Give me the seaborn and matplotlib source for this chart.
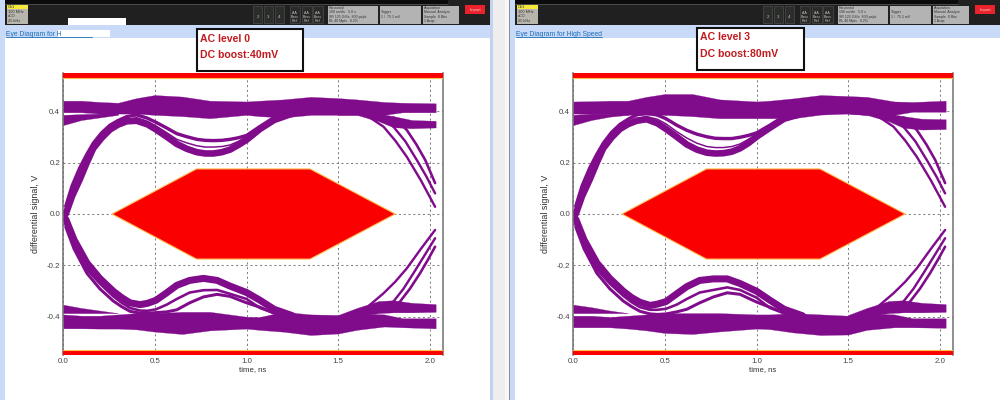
import matplotlib
matplotlib.use("Agg")
import matplotlib.pyplot as plt
from matplotlib.patches import Rectangle
import pandas as pd
import seaborn as sns

sns.set_theme(style="white")
plt.rcParams["font.family"] = ["Liberation Sans", "DejaVu Sans"]

PURPLE = "#800c8c"
RED = "#fb0000"
PX = 0.72

# shared axis data
x_ticks = [0.0, 0.5, 1.0, 1.5, 2.0]
y_ticks = [-0.4, -0.2, 0.0, 0.2, 0.4]
y_tick_labels = ["-0.4", "-0.2", "0.0", "0.2", "0.4"]

# eye mask
mask_t = [0.267, 0.727, 1.346, 1.81, 1.346, 0.727]
mask_v = [0.0, 0.175, 0.175, 0.0, -0.175, -0.175]

# knots for upper rail and lower rail
rail_t = [0.0, 0.1, 0.2, 0.3, 0.4, 0.5, 0.65, 0.8, 1.0, 1.07, 1.2, 1.35, 1.5, 1.6, 1.75, 1.85, 2.03]
# left panel rails
l_top_hi = [0.44, 0.44, 0.435, 0.432, 0.45, 0.462, 0.456, 0.44, 0.437, 0.44, 0.445, 0.455, 0.45, 0.445, 0.435, 0.432, 0.43]
l_top_lo = [0.395, 0.395, 0.39, 0.39, 0.39, 0.385, 0.38, 0.372, 0.385, 0.38, 0.375, 0.385, 0.385, 0.385, 0.385, 0.395, 0.395]
l_bot_hi = [-0.39, -0.395, -0.395, -0.39, -0.385, -0.385, -0.38, -0.38, -0.399, -0.40, -0.38, -0.39, -0.392, -0.385, -0.39, -0.405, -0.405]
l_bot_lo = [-0.444, -0.444, -0.445, -0.445, -0.448, -0.457, -0.466, -0.452, -0.445, -0.45, -0.457, -0.47, -0.464, -0.45, -0.437, -0.44, -0.444]
# right panel rails
r_top_hi = [0.437, 0.438, 0.44, 0.44, 0.455, 0.466, 0.466, 0.445, 0.437, 0.44, 0.449, 0.462, 0.458, 0.455, 0.437, 0.435, 0.44]
r_top_lo = [0.39, 0.39, 0.39, 0.385, 0.385, 0.385, 0.38, 0.372, 0.372, 0.372, 0.372, 0.386, 0.39, 0.384, 0.385, 0.397, 0.397]
r_bot_hi = [-0.395, -0.395, -0.40, -0.395, -0.39, -0.385, -0.385, -0.385, -0.39, -0.39, -0.385, -0.39, -0.395, -0.385, -0.39, -0.405, -0.405]
r_bot_lo = [-0.44, -0.44, -0.44, -0.445, -0.452, -0.462, -0.466, -0.456, -0.445, -0.447, -0.46, -0.47, -0.468, -0.45, -0.44, -0.44, -0.442]

# branches of the rails at the two ends of the trace
branch_left_t = [0.0, 0.1, 0.2, 0.3]
branch_right_t = [1.5, 1.6, 1.72, 1.8, 1.9, 2.03]
l_b1_hi = [0.385, 0.388, 0.39, 0.392]
l_b1_lo = [0.345, 0.365, 0.375, 0.385]
r_b1_hi = [0.385, 0.39, 0.39, 0.392]
r_b1_lo = [0.345, 0.365, 0.378, 0.385]
l_b2_hi = [0.39, 0.39, 0.39, 0.38, 0.365, 0.362]
l_b2_lo = [0.385, 0.385, 0.36, 0.337, 0.333, 0.336]
r_b2_hi = [0.39, 0.39, 0.39, 0.38, 0.37, 0.368]
r_b2_lo = [0.39, 0.385, 0.36, 0.335, 0.328, 0.33]
l_b3_hi = [-0.385, -0.385, -0.385, -0.385]
l_b3_lo = [-0.352, -0.365, -0.375, -0.385]
r_b3_hi = [-0.385, -0.385, -0.385, -0.385]
r_b3_lo = [-0.352, -0.362, -0.375, -0.385]
l_b4_hi = [-0.392, -0.365, -0.338, -0.335, -0.345, -0.35]
l_b4_lo = [-0.40, -0.395, -0.385, -0.382, -0.382, -0.38]
r_b4_hi = [-0.392, -0.365, -0.338, -0.335, -0.345, -0.35]
r_b4_lo = [-0.40, -0.395, -0.385, -0.382, -0.382, -0.38]

# rising and falling trace bundles of the upper eye
up_t = [0.015, 0.05, 0.092, 0.13, 0.165, 0.21, 0.256, 0.30, 0.347, 0.401, 0.46, 0.507, 0.565, 0.62, 0.675, 0.729, 0.775, 0.819, 0.865, 0.91, 0.955, 1.0, 1.073, 1.15, 1.25]
l_up_a = [0.0, 0.07, 0.135, 0.20, 0.255, 0.295, 0.328, 0.347, 0.36, 0.362, 0.348, 0.328, 0.30, 0.272, 0.253, 0.24, 0.235, 0.235, 0.24, 0.25, 0.268, 0.288, 0.33, 0.365, 0.39]
l_up_b = [0.03, 0.11, 0.18, 0.232, 0.275, 0.315, 0.345, 0.363, 0.378, 0.385, 0.372, 0.356, 0.334, 0.312, 0.30, 0.29, 0.286, 0.285, 0.286, 0.29, 0.296, 0.305, 0.34, 0.375, 0.40]
l_up_c = [0.015, 0.09, 0.155, 0.215, 0.262, 0.302, 0.335, 0.352, 0.366, 0.374, 0.36, 0.342, 0.316, 0.29, 0.276, 0.265, 0.26, 0.26, 0.262, 0.268, 0.282, 0.30, 0.335, 0.37, 0.395]
r_up_a = [0.0, 0.07, 0.135, 0.20, 0.255, 0.297, 0.33, 0.349, 0.362, 0.368, 0.352, 0.33, 0.30, 0.27, 0.25, 0.238, 0.235, 0.236, 0.242, 0.255, 0.275, 0.30, 0.335, 0.37, 0.39]
r_up_b = [0.03, 0.11, 0.18, 0.232, 0.275, 0.317, 0.348, 0.368, 0.385, 0.392, 0.384, 0.37, 0.345, 0.325, 0.31, 0.30, 0.294, 0.293, 0.293, 0.298, 0.305, 0.315, 0.345, 0.38, 0.40]
r_up_c = [0.015, 0.09, 0.155, 0.215, 0.262, 0.304, 0.338, 0.357, 0.372, 0.378, 0.368, 0.35, 0.32, 0.295, 0.275, 0.262, 0.258, 0.258, 0.262, 0.272, 0.29, 0.31, 0.34, 0.375, 0.395]

# rising and falling trace bundles of the lower eye
low_t = [0.015, 0.06, 0.13, 0.2, 0.274, 0.32, 0.365, 0.42, 0.46, 0.507, 0.565, 0.62, 0.69, 0.765, 0.84, 0.91, 1.0, 1.073, 1.15, 1.25]
l_low_a = [-0.02, -0.10, -0.19, -0.25, -0.30, -0.325, -0.345, -0.352, -0.347, -0.335, -0.306, -0.277, -0.258, -0.25, -0.258, -0.28, -0.305, -0.335, -0.37, -0.395]
l_low_b = [-0.04, -0.125, -0.215, -0.27, -0.32, -0.345, -0.365, -0.375, -0.376, -0.37, -0.352, -0.33, -0.305, -0.296, -0.295, -0.31, -0.33, -0.365, -0.385, -0.398]
l_low_c = [-0.05, -0.135, -0.23, -0.29, -0.338, -0.36, -0.378, -0.385, -0.385, -0.383, -0.38, -0.372, -0.345, -0.322, -0.312, -0.32, -0.345, -0.362, -0.385, -0.398]
r_low_a = [-0.02, -0.10, -0.19, -0.25, -0.30, -0.325, -0.343, -0.355, -0.35, -0.34, -0.31, -0.282, -0.258, -0.252, -0.252, -0.27, -0.30, -0.335, -0.37, -0.395]
r_low_b = [-0.04, -0.125, -0.215, -0.27, -0.318, -0.343, -0.362, -0.372, -0.372, -0.368, -0.352, -0.33, -0.305, -0.295, -0.285, -0.295, -0.325, -0.365, -0.385, -0.398]
r_low_c = [-0.05, -0.135, -0.23, -0.29, -0.338, -0.36, -0.378, -0.388, -0.39, -0.388, -0.38, -0.37, -0.345, -0.322, -0.306, -0.312, -0.342, -0.362, -0.385, -0.398]

# end strands of the eye crossing at about 2 ns
fall_a_t = [1.65, 1.746, 1.81, 1.873, 1.95, 2.027]
fall_a_v = [0.385, 0.339, 0.285, 0.222, 0.13, 0.028]
fall_b_t = [1.72, 1.8, 1.865, 1.927, 1.98, 2.027]
fall_b_v = [0.38, 0.339, 0.282, 0.21, 0.145, 0.08]
fall_c_t = [1.8, 1.873, 1.925, 1.973, 2.0, 2.027]
fall_c_v = [0.375, 0.326, 0.27, 0.21, 0.165, 0.12]
rise_a_t = [1.66, 1.746, 1.81, 1.873, 1.95, 2.027]
rise_a_v = [-0.36, -0.308, -0.263, -0.211, -0.135, -0.062]
rise_b_t = [1.72, 1.8, 1.855, 1.909, 1.97, 2.027]
rise_b_v = [-0.37, -0.34, -0.29, -0.23, -0.16, -0.094]
rise_c_t = [1.78, 1.836, 1.89, 1.945, 1.99, 2.027]
rise_c_v = [-0.375, -0.34, -0.29, -0.23, -0.175, -0.127]


fig = plt.figure(figsize=(10, 4), dpi=100)
fig.patch.set_facecolor("white")

bg = fig.add_axes([0, 0, 1, 1])
bg.set_xlim(0, 1000)
bg.set_ylim(400, 0)
bg.axis("off")


def box(x0, y0, x1, y1, color, **kw):
    bg.add_patch(Rectangle((x0, y0), x1 - x0, y1 - y0, facecolor=color, edgecolor=kw.pop("ec", "none"), **kw))


def chrome(dx, title, right_end):
    box(dx, 25, right_end, 38, "#c9d9f8")
    box(dx - 5, 0, dx, 400, "#c9d9f8")
    box(dx, 0, right_end, 25, "#202020")
    box(dx, 0, dx + 443, 3.5, "#0b0b0b")
    bg.plot([dx, dx + 443], [4, 4], color="#6a6a6a", lw=0.4)
    box(dx + 2, 5, dx + 23, 24, "#b9b7ad")
    box(dx + 2, 5, dx + 23, 9, "#f4e93a")
    for i, s in enumerate(["Ch1", "100 MHz", "cCO", "25 kHz"]):
        bg.text(dx + 3, 7 + i * 4.6, s, fontsize=2.8, color="#303030", va="center")
    for i, xx in enumerate((248, 259, 270)):
        box(dx + xx, 6, dx + xx + 9, 23, "#2a2d2a", ec="#555555", linewidth=0.4)
        bg.text(dx + xx + 4.5, 17, str(i + 2), fontsize=3.2, color="#c0c0c0", ha="center", va="center")
    for xx in (285, 297, 308):
        box(dx + xx, 6, dx + xx + 10, 23, "#2a2a28", ec="#555555", linewidth=0.4)
        bg.text(dx + xx + 5, 17, "A.A\nBass\nRef", fontsize=2.6, color="#c0c0c0", ha="center", va="center", linespacing=1.0)
    for x0, x1, s in ((323, 373, "Horizontal\n100 ns/div   5.0 s\nSR 125 GS/s  800 ps/pt\nRL 40 Mpts   0.2%"),
                      (375, 416, "Trigger\n1 /  75.1 mV"),
                      (418, 454, "Acquisition\nManual  Analyze\nSample  8 Bits\n1 Acqs")):
        box(dx + x0, 6, dx + x1, 24, "#b3b3b3")
        bg.text(dx + x0 + 1, 14.5, s, fontsize=2.5, color="#333333", va="center", linespacing=1.05)
    box(dx + 460, 5, dx + 480, 14, "#e9222c")
    bg.text(dx + 470, 9.5, "Import", fontsize=3, color="#ffd0d0", ha="center", va="center")
    bg.text(dx + 1, 34, title, fontsize=4.9, color="#1c6fb6", va="center")
    bg.plot([dx + 1, dx + 87], [37.3, 37.3], color="#1c6fb6", lw=0.6)


chrome(5, "Eye Diagram for H", 490)
box(68, 18, 126, 25, "white")
box(58, 30, 110, 37, "white")
chrome(515, "Eye Diagram for High Speed", 1000)
box(490, 0, 493, 400, "#c3d2ee")
box(493, 0, 505, 400, "#eeeeee")
box(505, 0, 510, 400, "#f7f7f7")
box(508.5, 0, 510, 400, "#8e8e94")


def note(x0, y0, x1, y1, line1, line2):
    box(x0, y0, x1, y1, "white", ec="#101010", linewidth=1.5, zorder=6)
    bg.text(x0 + 3, y0 + 9.5, line1, color="#c11a1f", fontsize=7.6, fontweight="bold", va="center", zorder=7)
    bg.text(x0 + 3, y0 + 26, line2, color="#c11a1f", fontsize=7.6, fontweight="bold", va="center", zorder=7)


def eye(x_left, label_x, panel):
    ax = fig.add_axes([x_left / 1000, (400 - 355) / 400, 380 / 1000, (355 - 73) / 400])
    ax.patch.set_alpha(0)

    ax.set_xticks(x_ticks, [f"{v:.1f}" for v in x_ticks])
    ax.set_yticks(y_ticks, y_tick_labels)
    ax.grid(True, color="#808080", linestyle=(0, (2, 2.6)), linewidth=0.75)
    ax.set_axisbelow(True)
    ax.tick_params(axis="both", labelsize=5.7, colors="#454545", length=0, pad=2)

    for s in ("left", "right"):
        ax.spines[s].set_color("#707070")
        ax.spines[s].set_linewidth(1.1)
    ax.spines["top"].set_visible(False)
    ax.spines["bottom"].set_visible(False)

    ax.fill_between([0, 2.07], 0.528, 0.5476, color=RED, lw=0, zorder=4)
    ax.fill_between([0, 2.07], -0.5476, -0.528, color=RED, lw=0, zorder=4)
    ax.plot([0, 2.07], [0.527, 0.527], color="#ffc04d", lw=0.8, zorder=4)
    ax.plot([0, 2.07], [-0.527, -0.527], color="#ffc04d", lw=0.8, zorder=4)

    ax.fill(mask_t, mask_v, facecolor=RED, edgecolor="#ffbe55", lw=0.8, zorder=3)

    if panel == "left":
        top_hi, top_lo, bot_hi, bot_lo = l_top_hi, l_top_lo, l_bot_hi, l_bot_lo
        b = (l_b1_hi, l_b1_lo, l_b2_hi, l_b2_lo, l_b3_hi, l_b3_lo, l_b4_hi, l_b4_lo)
        ua, ub, uc, la, lb, lc = l_up_a, l_up_b, l_up_c, l_low_a, l_low_b, l_low_c
    else:
        top_hi, top_lo, bot_hi, bot_lo = r_top_hi, r_top_lo, r_bot_hi, r_bot_lo
        b = (r_b1_hi, r_b1_lo, r_b2_hi, r_b2_lo, r_b3_hi, r_b3_lo, r_b4_hi, r_b4_lo)
        ua, ub, uc, la, lb, lc = r_up_a, r_up_b, r_up_c, r_low_a, r_low_b, r_low_c

    ax.fill_between(rail_t, top_lo, top_hi, color=PURPLE, lw=0.2, zorder=2)
    ax.fill_between(rail_t, bot_lo, bot_hi, color=PURPLE, lw=0.2, zorder=2)
    ax.fill_between(branch_left_t, b[1], b[0], color=PURPLE, lw=0.2, zorder=2)
    ax.fill_between(branch_right_t, b[3], b[2], color=PURPLE, lw=0.2, zorder=2)
    ax.fill_between(branch_left_t, b[5], b[4], color=PURPLE, lw=0.2, zorder=2)
    ax.fill_between(branch_right_t, b[7], b[6], color=PURPLE, lw=0.2, zorder=2)

    styles = [
        ("a", up_t, ua, 6.6), ("b", up_t, ub, 3.4), ("c", up_t, uc, 1.5),
        ("d", low_t, la, 7.0), ("e", low_t, lb, 2.6), ("f", low_t, lc, 3.0),
        ("g", fall_a_t, fall_a_v, 2.4), ("h", fall_b_t, fall_b_v, 2.4), ("i", fall_c_t, fall_c_v, 2.6),
        ("j", rise_a_t, rise_a_v, 2.4), ("k", rise_b_t, rise_b_v, 2.4), ("l", rise_c_t, rise_c_v, 2.6),
    ]
    for name, ts, vs, width in styles:
        df = pd.DataFrame({"t": ts, "v": vs, "trace": name})
        sns.lineplot(data=df, x="t", y="v", units="trace", estimator=None, sort=False,
                     color=PURPLE, linewidth=width * PX, ax=ax, zorder=2, legend=False,
                     solid_joinstyle="round")
    ax.set_xlabel("")
    ax.set_ylabel("")
    ax.set_xlim(0, 2.07)
    ax.set_ylim(-0.5476, 0.5476)

    fig.text((x_left + 190) / 1000, 1 - 369.5 / 400, "time, ns", fontsize=5.6, color="#303030", ha="center", va="center")
    fig.text(label_x / 1000, 1 - 214 / 400, "differential signal, V", rotation=90, fontsize=6.4,
             color="#303030", ha="center", va="center")
    return ax


eye(63, 36, "left")
eye(573, 545, "right")
top = fig.add_axes([0, 0, 1, 1], zorder=10)
top.set_xlim(0, 1000)
top.set_ylim(400, 0)
top.axis("off")
bg = top
note(197, 29, 303, 71, "AC level 0", "DC boost:40mV")
note(697, 28, 804, 70, "AC level 3", "DC boost:80mV")

fig.savefig("out.png", dpi=100)
